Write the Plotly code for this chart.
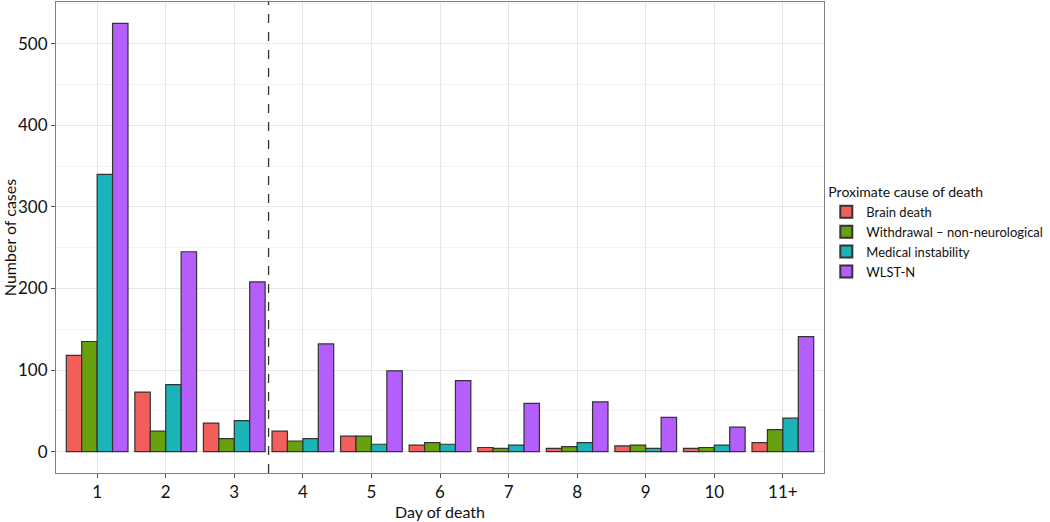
import plotly.graph_objects as go

days = ["1", "2", "3", "4", "5", "6", "7", "8", "9", "10", "11+"]
brain_death = [118, 73, 35, 25, 19, 8, 5, 4, 7, 4, 11]
withdrawal = [135, 25, 16, 13, 19, 11, 4, 6, 8, 5, 27]
medical = [340, 82, 38, 16, 9, 9, 8, 11, 4, 8, 41]
wlst_n = [525, 245, 208, 132, 99, 87, 59, 61, 42, 30, 141]

series = [
    ("Brain death", brain_death, "#F25F5A"),
    ("Withdrawal \u2013 non-neurological", withdrawal, "#69A00D"),
    ("Medical instability", medical, "#1AB4B8"),
    ("WLST-N", wlst_n, "#B45EFE"),
]

FONT = "Lato, 'Open Sans', sans-serif"

fig = go.Figure()
for name, vals, col in series:
    fig.add_trace(go.Bar(
        x=days, y=vals, name=name,
        marker=dict(color=col, line=dict(color="#333333", width=1.2)),
    ))

fig.update_layout(
    width=1050, height=522,
    barmode="group", bargap=0.1, bargroupgap=0,
    plot_bgcolor="white", paper_bgcolor="white",
    margin=dict(l=56, r=226, t=2, b=49, autoexpand=False),
    font=dict(family=FONT, color="#222222"),
    legend=dict(
        title=dict(text="Proximate cause of death", font=dict(size=14, color="#111111")),
        font=dict(size=13, color="#111111"),
        x=1.003, xanchor="left", y=0.625, yanchor="top",
        tracegroupgap=0, itemsizing="constant", itemwidth=30,
        borderwidth=0, bgcolor="rgba(0,0,0,0)",
    ),
    shapes=[dict(
        type="line", xref="x", yref="paper", x0=2.5, x1=2.5, y0=0, y1=1,
        line=dict(color="#333333", width=1.3, dash="dash"),
    )],
)

fig.update_xaxes(
    title=dict(text="Day of death", font=dict(size=16, color="#111111"), standoff=2),
    automargin=False,
    range=[-0.6, 10.6],
    showgrid=True, gridcolor="#E6E6E6", gridwidth=1,
    ticks="outside", ticklen=4, tickcolor="#555555",
    tickfont=dict(size=17, color="#111111"),
    showline=True, linecolor="#7F7F7F", linewidth=1, mirror=True,
)
fig.update_yaxes(
    title=dict(text="Number of cases", font=dict(size=16, color="#111111"), standoff=2),
    automargin=False,
    range=[-26.25, 551.25],
    tickvals=[0, 100, 200, 300, 400, 500],
    showgrid=True, gridcolor="#E6E6E6", gridwidth=1,
    minor=dict(tickvals=[50, 150, 250, 350, 450, 550], showgrid=True, gridcolor="#F4F4F4", gridwidth=1),
    ticks="outside", ticklen=4, tickcolor="#555555",
    tickfont=dict(size=17, color="#111111"),
    showline=True, linecolor="#7F7F7F", linewidth=1, mirror=True,
    zeroline=False,
)

fig.write_html("out.html", config={"displayModeBar": False},
               post_script="document.body.style.margin='0';")
